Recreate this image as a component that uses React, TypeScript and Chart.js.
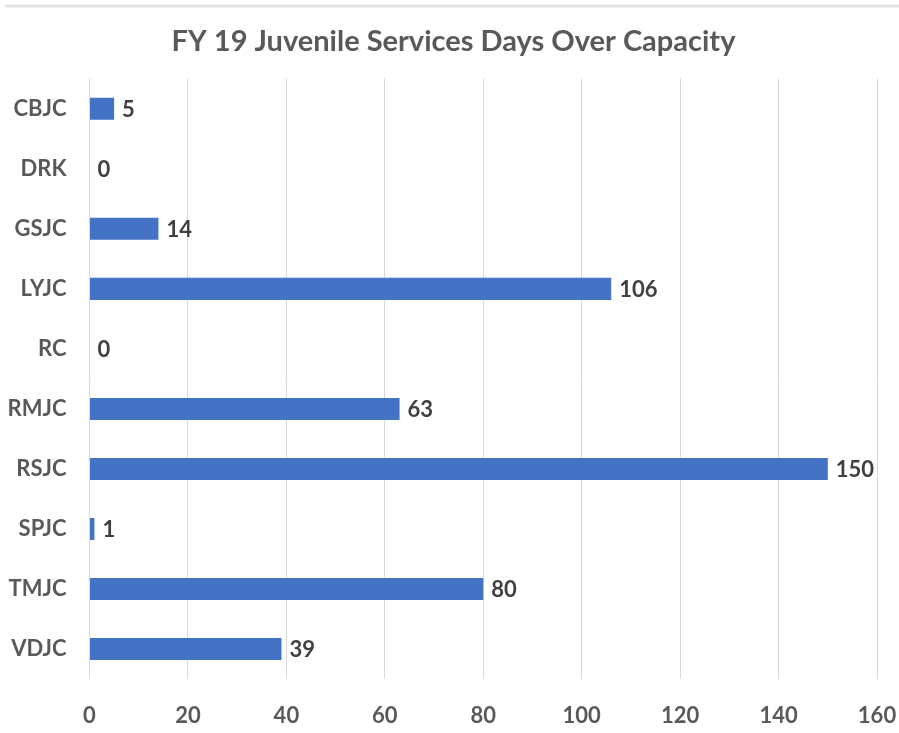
import React, { useEffect, useRef } from "react";
import { Chart, registerables } from "chart.js";

Chart.register(...registerables);

const categories = ["CBJC", "DRK", "GSJC", "LYJC", "RC", "RMJC", "RSJC", "SPJC", "TMJC", "VDJC"];
const daysOver = [5, 0, 14, 106, 0, 63, 150, 1, 80, 39];
const titleText = "FY 19 Juvenile Services Days Over Capacity";
const xMin = 0;
const xMax = 160;
const xStep = 20;

const FONT = "Lato, 'Open Sans', sans-serif";

const valueLabels = {
  id: "valueLabels",
  afterDatasetsDraw(chart: any) {
    const ctx = chart.ctx;
    const meta = chart.getDatasetMeta(0);
    ctx.save();
    ctx.font = `bold 22px ${FONT}`;
    ctx.fillStyle = "#404040";
    ctx.textAlign = "left";
    ctx.textBaseline = "middle";
    meta.data.forEach((bar: any, i: number) => {
      ctx.fillText(String(daysOver[i]), bar.x + 8, bar.y + 1);
    });
    ctx.restore();
  },
};

const topRule = {
  id: "topRule",
  beforeDraw(chart: any) {
    const ctx = chart.ctx;
    ctx.save();
    ctx.strokeStyle = "#e3e3e3";
    ctx.lineWidth = 3;
    ctx.beginPath();
    ctx.moveTo(5, 6);
    ctx.lineTo(chart.width, 6);
    ctx.stroke();
    ctx.restore();
  },
};

export default function App() {
  const ref = useRef<HTMLCanvasElement | null>(null);
  useEffect(() => {
    if (!ref.current) return;
    const chart = new Chart(ref.current, {
      type: "bar",
      data: {
        labels: categories,
        datasets: [
          {
            data: daysOver,
            backgroundColor: "#4472C4",
            borderWidth: 0,
            barPercentage: 0.55,
            categoryPercentage: 0.667,
          },
        ],
      },
      options: {
        indexAxis: "y",
        animation: false,
        responsive: false,
        maintainAspectRatio: false,
        layout: { padding: { top: 0, right: 0, bottom: 0, left: 8 } },
        plugins: {
          legend: { display: false },
          tooltip: { enabled: false },
          title: {
            display: true,
            text: titleText,
            color: "#595959",
            font: { family: FONT, size: 29, weight: "bold" },
            padding: { top: 24, bottom: 20 },
          },
        },
        scales: {
          x: {
            min: xMin,
            max: xMax,
            ticks: {
              stepSize: xStep,
              color: "#595959",
              font: { family: FONT, size: 22, weight: "bold" },
              padding: 24,
            },
            grid: { color: "#d9d9d9", drawTicks: false, lineWidth: 1 },
            border: { display: false },
            afterFit(scale: any) {
              scale.height = 54;
              scale.paddingRight = 22;
              scale.paddingLeft = 0;
            },
          },
          y: {
            ticks: {
              color: "#595959",
              font: { family: FONT, size: 22, weight: "bold" },
              padding: 23,
            },
            grid: { display: false, drawTicks: false },
            border: { display: false },
            afterFit(scale: any) {
              scale.width = 81.5;
            },
          },
        },
      },
      plugins: [valueLabels, topRule],
    });
    return () => chart.destroy();
  }, []);
  return (
    <div style={{ position: "fixed", left: 0, top: 0, width: 899, height: 733, background: "#fff" }}>
      <canvas ref={ref} width={899} height={733} style={{ width: 899, height: 733 }} />
    </div>
  );
}
